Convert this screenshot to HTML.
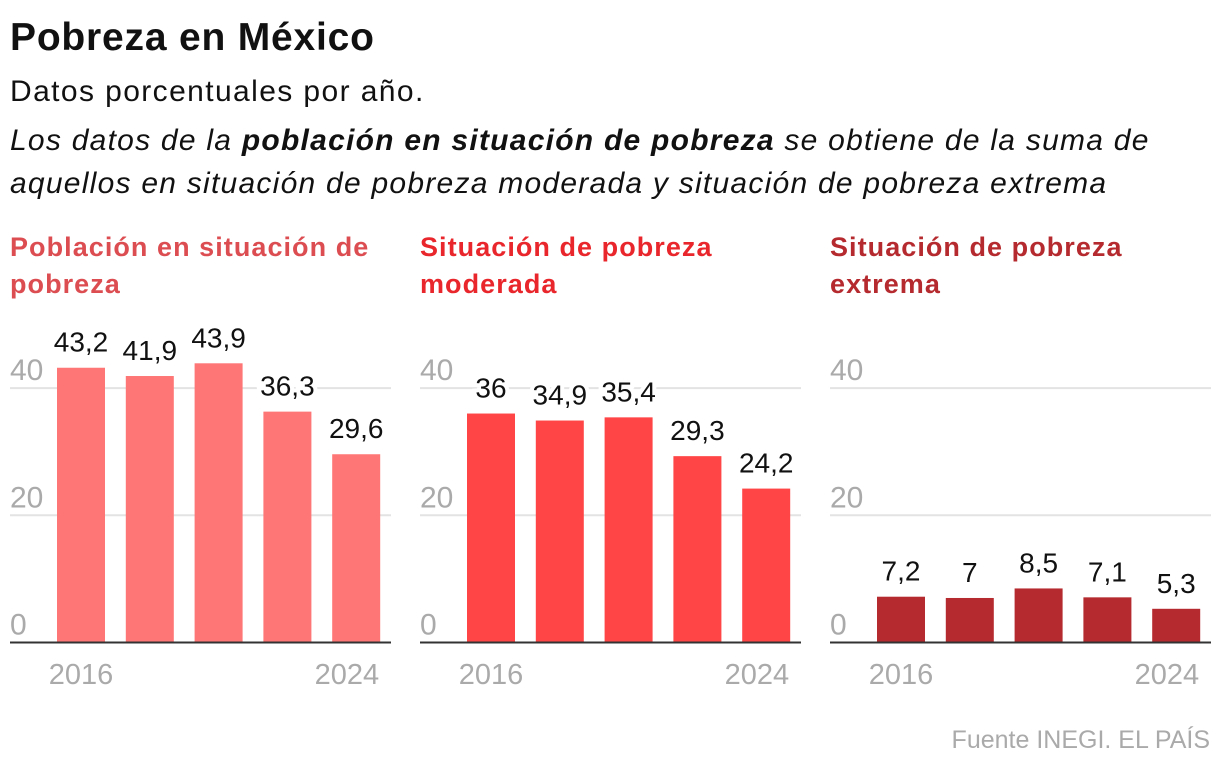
<!DOCTYPE html>
<html><head><meta charset="utf-8"><style>
body{margin:0;width:1220px;height:770px;background:#fff;font-family:"Liberation Sans",sans-serif;overflow:hidden;position:relative}
.t{position:absolute;left:10px;top:16px;font-size:39px;font-weight:bold;color:#111;letter-spacing:0.8px}
.s{position:absolute;left:10px;top:75px;font-size:30px;color:#111;letter-spacing:1.4px}
.d{position:absolute;left:10px;top:119px;font-size:30px;font-style:italic;color:#111;line-height:43px;width:1210px;letter-spacing:1.25px;white-space:nowrap}
.src{position:absolute;right:10px;top:726px;font-size:25px;color:#aaa}
svg{position:absolute;left:0;top:0}
</style></head><body>
<div class="t">Pobreza en México</div>
<div class="s">Datos porcentuales por año.</div>
<div class="d">Los datos de la <b>población en situación de pobreza</b> se obtiene de la suma de<br>aquellos en situación de pobreza moderada y situación de pobreza extrema</div>
<svg id="c" width="1220" height="770"></svg>
<div class="src">Fuente INEGI. EL PAÍS</div>
<script>
const years=[2016,2018,2020,2022,2024];
const totalValues=[43.2,41.9,43.9,36.3,29.6];
const moderateValues=[36,34.9,35.4,29.3,24.2];
const extremeValues=[7.2,7,8.5,7.1,5.3];
const yTicks=[0,20,40];
const panelTitles=[["Población en situación de","pobreza"],["Situación de pobreza","moderada"],["Situación de pobreza","extrema"]];
const series=[totalValues,moderateValues,extremeValues];
const NS="http://www.w3.org/2000/svg";
const svg=document.getElementById('c');
const barColors=["#ff7676","#ff4545","#b52a2e"];
const titleColors=["#dc4d52","#e8262b","#b52a2e"];
const base=642.5, scale=6.36;
function y(v){return base-v*scale;}
function x(panel,i){return 57+panel*410+i*68.8;}
function mk(tag,attrs,txt){const e=document.createElementNS(NS,tag);for(const k in attrs)e.setAttribute(k,attrs[k]);if(txt!==undefined)e.textContent=txt;svg.appendChild(e);return e;}
series.forEach((vals,p)=>{
  const left=10+p*410, right=391+p*410;
  panelTitles[p].forEach((ln,j)=>{
    const e=mk('text',{x:left,y:256+j*37,'font-size':27,'font-weight':'bold',fill:titleColors[p],'letter-spacing':1.05},ln);
    
    
  });
  yTicks.forEach(t=>{
    if(t>0){const g=mk('line',{x1:left,x2:right,y1:y(t),y2:y(t),stroke:'#e3e3e3','stroke-width':2});
    
    }
    const l=mk('text',{x:left,y:y(t)-8,'font-size':30,fill:'#aaa'},String(t));
    
    
  });
  vals.forEach((v,i)=>{
    const b=mk('rect',{x:x(p,i),y:y(v),width:48,height:base-y(v),fill:barColors[p]});
    
    
    const lbl=String(v).replace('.',',');
    const t=mk('text',{x:x(p,i)+24,y:y(v)-16,'font-size':28,fill:'#111','text-anchor':'middle',stroke:'#fff','stroke-width':8,'paint-order':'stroke'},lbl);
    
    
  });
  const ax=mk('line',{x1:left,x2:right,y1:base,y2:base,stroke:'#333','stroke-width':2});
  
  
  const t0=mk('text',{x:x(p,0)+24,y:684,'font-size':29,fill:'#aaa','text-anchor':'middle'},String(years[0]));
  
  
  const t4=mk('text',{x:x(p,4)+47,y:684,'font-size':29,fill:'#aaa','text-anchor':'end'},String(years[4]));
  
  
});
</script>
</body></html>
